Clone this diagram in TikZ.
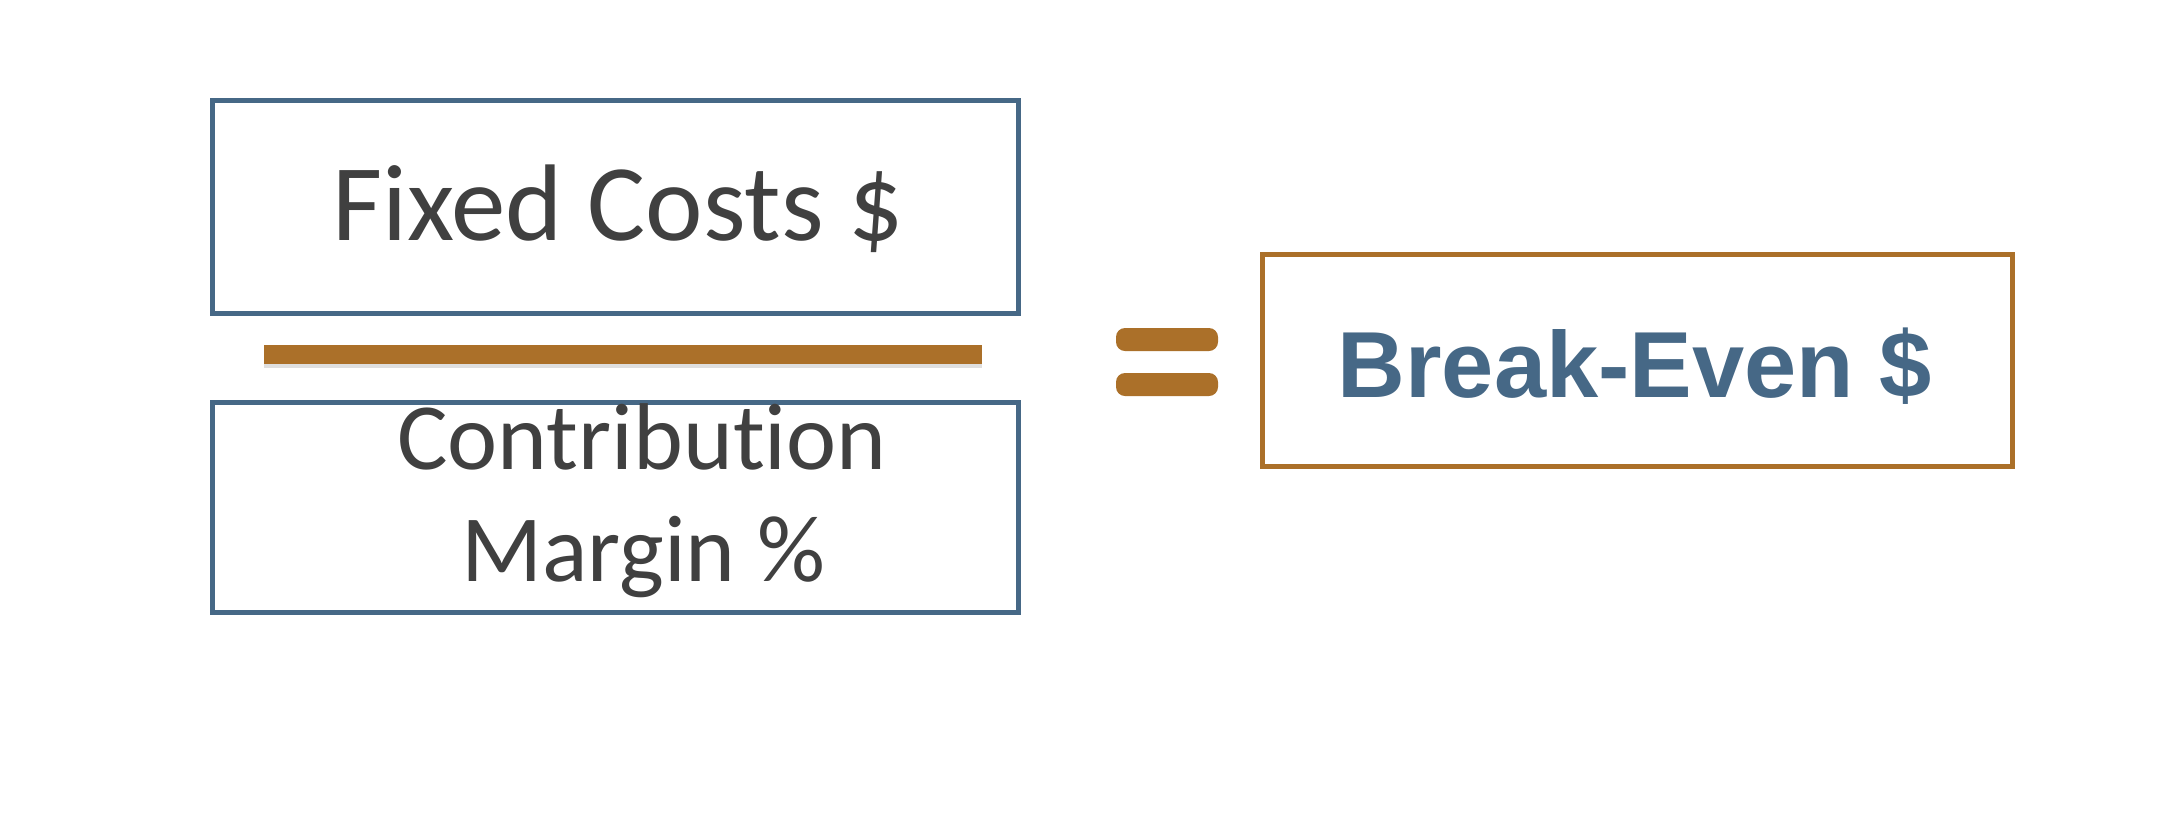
\documentclass[tikz,border=0pt]{standalone}
\usepackage{fontspec}
\setmainfont{Carlito}[Ligatures={NoCommon,NoContextual}]
\newfontfamily\arialfont{Liberation Sans}
\usetikzlibrary{shadows}
\definecolor{slate}{HTML}{466886}
\definecolor{bronze}{HTML}{AB7029}
\definecolor{ink}{HTML}{404040}
\begin{document}
\begin{tikzpicture}[
    termbox/.style={draw=slate, line width=0.05cm, minimum width=8.06cm, inner sep=0},
    resultbox/.style={draw=bronze, line width=0.05cm, minimum width=7.50cm, minimum height=2.12cm, inner sep=0},
    eqbar/.style={fill=bronze, rounded corners=0.09cm, minimum width=1.02cm, minimum height=0.23cm, inner sep=0},
    termtext/.style={anchor=base, inner sep=0, text=ink}
  ]
  \useasboundingbox (0,0) rectangle (21.76,-8.28);
  \node[termbox, minimum height=2.13cm] (fixed) at (6.155,-2.07) {};
  \node[termbox, minimum height=2.10cm] (margin) at (6.155,-5.075) {};
  \node[fill=bronze, minimum width=7.18cm, minimum height=0.19cm, inner sep=0,
        drop shadow={shadow xshift=0cm, shadow yshift=-0.04cm, opacity=0.25}] (divider) at (6.23,-3.54) {};
  \node[termtext, font=\fontsize{31}{31}\selectfont] (fixedtext) at (6.18,-2.40) {Fixed Costs \$};
  \node[termtext, font=\fontsize{27}{27}\selectfont] (margintop) at (6.42,-4.69) {Contribution};
  \node[termtext, font=\fontsize{27}{27}\selectfont] (marginbot) at (6.43,-5.81) {Margin \%};
  \node[eqbar] (eqtop) at (11.67,-3.395) {};
  \node[eqbar] (eqbot) at (11.67,-3.845) {};
  \node[resultbox] (breakeven) at (16.375,-3.605) {};
  \node[anchor=base, inner sep=0, text=slate, font=\arialfont\bfseries\fontsize{26.7}{27}\selectfont] (betext) at (16.35,-3.97) {Break-Even \$};
\end{tikzpicture}
\end{document}
